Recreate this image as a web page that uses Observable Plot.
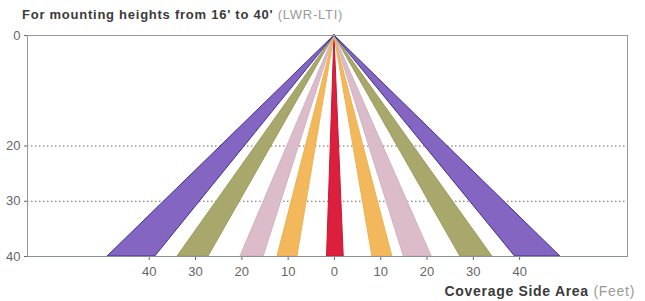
<!DOCTYPE html>
<html>
<head>
<meta charset="utf-8">
<script src="https://cdn.jsdelivr.net/npm/d3@7"></script>
<script src="https://cdn.jsdelivr.net/npm/@observablehq/plot@0.6"></script>
<style>
  body { margin: 0; background: #fff; font-family: "Liberation Sans", Arial, sans-serif; }
  #title { position: relative; height: 24px; width: 645px; }
  #title span.t { position: absolute; left: 22px; top: 7px; line-height: 15px; font-size: 13px; letter-spacing: 0.75px; white-space: nowrap; }
  #cap { position: relative; height: 19px; width: 645px; }
  #cap span.t { position: absolute; right: 10px; top: 1px; line-height: 17px; font-size: 14px; letter-spacing: 0.7px; white-space: nowrap; }
  .b { font-weight: bold; color: #3a3a3a; }
  .l { color: #9a9a9a; }
</style>
</head>
<body>
<div id="title"><span class="t"><span class="b">For mounting heights from 16' to 40'</span> <span class="l">(LWR-LTI)</span></span></div>
<div id="chart"></div>
<div id="cap"><span class="t"><span class="b">Coverage Side Area</span> <span class="l">(Feet)</span></span></div>
<script>
// Bands (coverage beams) fanning out from the luminaire at height 0 down to 40 ft
const bandIds    = ["C", "L10", "R10", "L20", "R20", "L30", "R30", "L40", "R40"];
const bottomNear = [-1.6, -8.0, 8.2, -15.3, 15.0, -27.2, 27.2, -38.7, 39.0];
const bottomFar  = [2.0, -12.3, 12.5, -20.3, 21.0, -33.9, 34.1, -49.0, 48.8];
const bandFill   = ["#dc1f3c", "#f3b85c", "#f3b85c", "#dcbccb", "#dcbccb", "#a9a86c", "#a9a86c", "#8565c2", "#8565c2"];
const bandStroke = ["#c81830", "#eeb050", "#eeb050", "#d0b0c0", "#d0b0c0", "#9c9a58", "#9c9a58", "#3e2f8f", "#3e2f8f"];
const apexX = 0, topY = 0, bottomY = 40;
const xTicks = [-40, -30, -20, -10, 0, 10, 20, 30, 40];
const yTicks = [0, 20, 30, 40];
const gridY = [20, 30];

const rows = [];
bandIds.forEach((id, i) => {
  rows.push({id, y: topY, x1: apexX, x2: apexX, fill: bandFill[i], stroke: bandStroke[i]});
  rows.push({id, y: bottomY, x1: bottomNear[i], x2: bottomFar[i], fill: bandFill[i], stroke: bandStroke[i]});
});

const chart = Plot.plot({
  width: 645,
  height: 258,
  marginLeft: 27,
  marginRight: 18,
  marginTop: 11,
  marginBottom: 26,
  style: {fontFamily: "'Liberation Sans', Arial, sans-serif", fontSize: "13px", color: "#666", background: "#fff"},
  x: {domain: [-66.3, 63.3], ticks: xTicks, tickFormat: d => Math.abs(d), tickSize: 4, tickPadding: 6, label: null},
  y: {domain: [0, 40], reverse: true, ticks: yTicks, tickSize: 3, tickPadding: 4, label: null},
  color: {type: "identity"},
  marks: [
    Plot.ruleY(gridY, {stroke: "#666", strokeDasharray: "1.5,2.5", strokeWidth: 1}),
    Plot.areaX(rows, {y: "y", x1: "x1", x2: "x2", z: "id", fill: "fill", stroke: "stroke", strokeWidth: 1}),
    Plot.frame({stroke: "#999", strokeWidth: 1}),
    Plot.ruleY([40], {stroke: "#8890a0", strokeWidth: 1.2})
  ]
});
document.getElementById("chart").appendChild(chart);
</script>
</body>
</html>
